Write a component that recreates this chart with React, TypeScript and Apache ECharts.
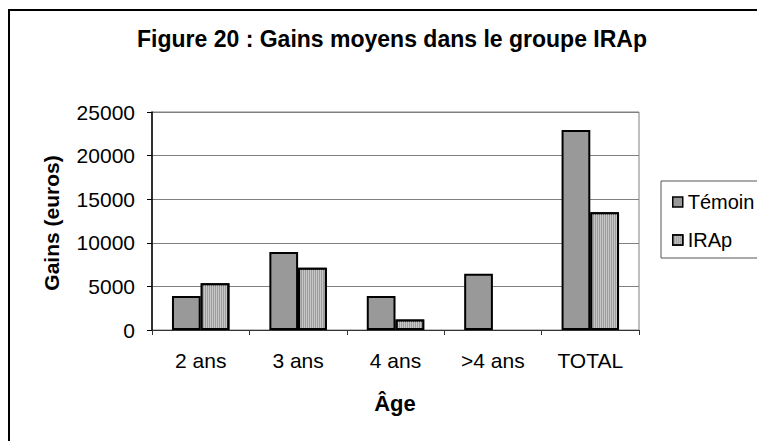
import React, { useEffect, useRef } from "react";
import * as echarts from "echarts";

const categories = ["2 ans", "3 ans", "4 ans", ">4 ans", "TOTAL"];
const temoin = [3900, 8950, 3900, 6450, 22950];
const irap: (number | null)[] = [5350, 7150, 1200, null, 13500];
const yTicks = [0, 5000, 10000, 15000, 20000, 25000];
const seriesNames = ["Témoin", "IRAp"];
const titleText = "Figure 20 : Gains moyens dans le groupe IRAp";
const yName = "Gains (euros)";
const xName = "Âge";

const FONT = "'Liberation Sans', Arial, sans-serif";

export default function App() {
  const ref = useRef<HTMLDivElement>(null);
  useEffect(() => {
    if (!ref.current) return;
    const chart = echarts.init(ref.current, null, { renderer: "svg" });
    chart.setOption({
      animation: false,
      backgroundColor: "#ffffff",
      textStyle: { fontFamily: FONT },
      grid: {
        left: 152,
        top: 112,
        right: 118,
        bottom: 111,
        show: true,
        borderColor: "#808080",
        borderWidth: 1,
        backgroundColor: "transparent",
      },
      legend: {
        orient: "vertical",
        left: 667,
        top: 187,
        itemWidth: 10,
        itemHeight: 10,
        itemGap: 18,
        itemTextGap: 4,
        icon: "rect",
        data: seriesNames,
        textStyle: { fontFamily: FONT, fontSize: 20, color: "#000" },
        itemStyle: { borderColor: "#000", borderWidth: 1.5 },
      },
      xAxis: {
        type: "category",
        data: categories,
        axisLine: { show: true, lineStyle: { color: "#333", width: 1 } },
        axisTick: { show: true, length: 5, lineStyle: { color: "#333" }, alignWithLabel: false },
        axisLabel: { fontFamily: FONT, fontSize: 21, color: "#000", margin: 20 },
        splitLine: { show: false },
      },
      yAxis: {
        type: "value",
        min: yTicks[0],
        max: yTicks[yTicks.length - 1],
        interval: 5000,
        axisLine: { show: true, lineStyle: { color: "#000", width: 1.5 } },
        axisTick: { show: true, length: 5, lineStyle: { color: "#000" } },
        axisLabel: {
          fontFamily: FONT,
          fontSize: 21,
          color: "#000",
          margin: 17,
          formatter: (v: number) => String(v),
        },
        splitLine: { show: true, lineStyle: { color: "#808080", width: 1 } },
      },
      series: [
        {
          name: seriesNames[0],
          type: "bar",
          data: temoin,
          barGap: "0%",
          barCategoryGap: "41%",
          itemStyle: { color: "#999999", borderColor: "#000", borderWidth: 2 },
        },
        {
          name: seriesNames[1],
          type: "bar",
          data: irap,
          barGap: "0%",
          barCategoryGap: "41%",
          itemStyle: {
            color: "#9c9c9c",
            borderColor: "#000",
            borderWidth: 2,
            decal: {
              symbol: "rect",
              symbolSize: 1,
              dashArrayX: [1, 1],
              dashArrayY: [4, 0],
              rotation: 0,
              color: "rgba(210,210,210,0.8)",
            },
          },
        },
      ],
      graphic: [
        {
          type: "polyline",
          shape: { points: [[9, 600], [9, 10], [900, 10]] },
          style: { fill: "none", stroke: "#000", lineWidth: 2 },
          silent: true,
        },
        {
          type: "polyline",
          shape: { points: [[900, 181], [661, 181], [661, 258], [900, 258]] },
          style: { fill: "none", stroke: "#555", lineWidth: 1 },
          silent: true,
        },
        {
          type: "text",
          x: 392,
          y: 39,
          style: {
            text: titleText,
            fontFamily: FONT,
            fontSize: 23,
            fontWeight: "bold",
            fill: "#000",
            textAlign: "center",
            textVerticalAlign: "middle",
          },
        },
        {
          type: "text",
          x: 51,
          y: 223,
          rotation: Math.PI / 2,
          style: {
            text: yName,
            fontFamily: FONT,
            fontSize: 21,
            fontWeight: "bold",
            fill: "#000",
            textAlign: "center",
            textVerticalAlign: "middle",
          },
        },
        {
          type: "text",
          x: 395,
          y: 403,
          style: {
            text: xName,
            fontFamily: FONT,
            fontSize: 22,
            fontWeight: "bold",
            fill: "#000",
            textAlign: "center",
            textVerticalAlign: "middle",
          },
        },
      ],
    });
    return () => chart.dispose();
  }, []);
  return (
    <div
      ref={ref}
      style={{ position: "fixed", left: 0, top: 0, width: 757, height: 441 }}
    />
  );
}
